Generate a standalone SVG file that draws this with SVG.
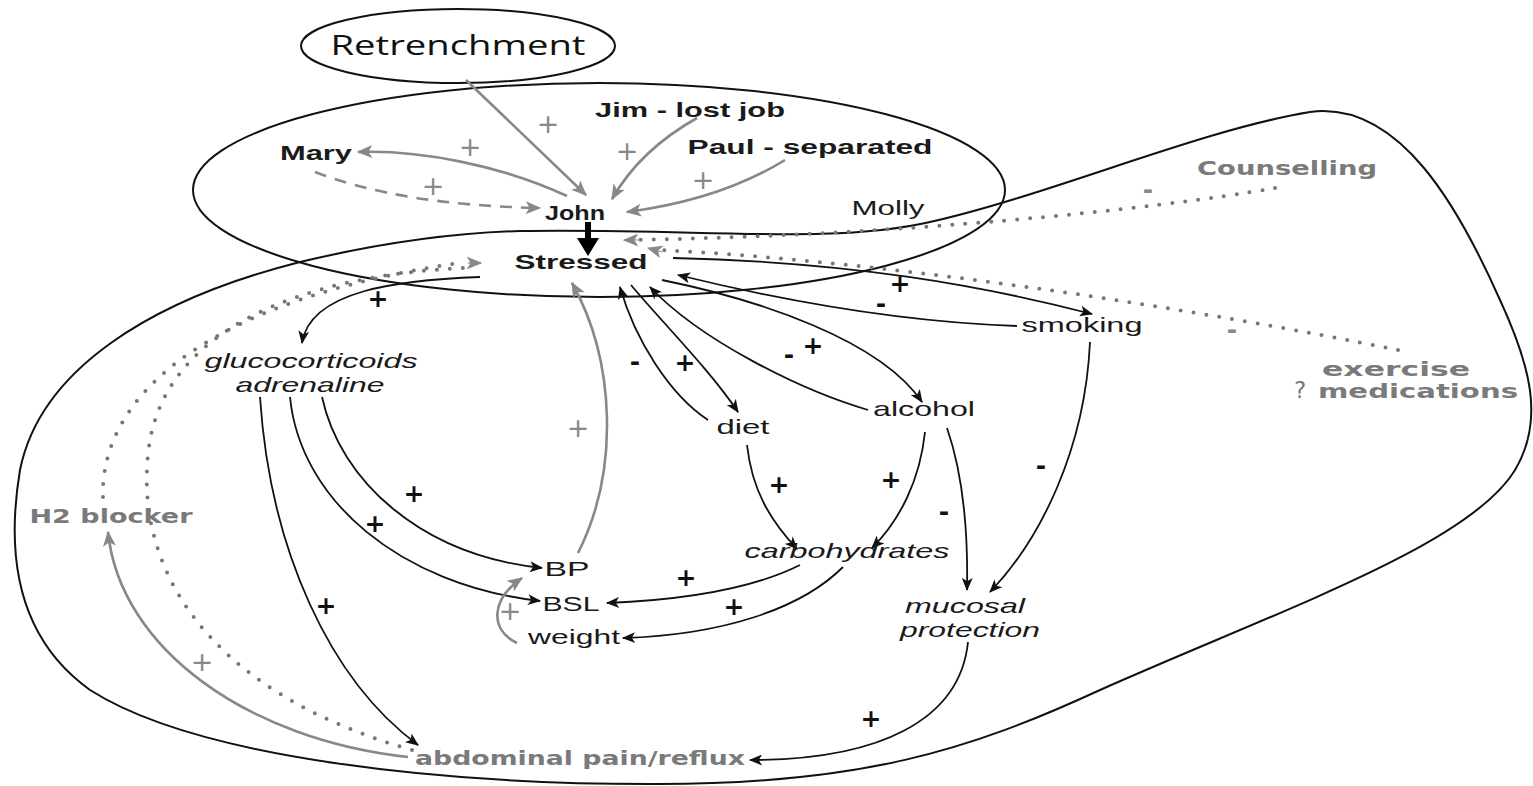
<svg xmlns="http://www.w3.org/2000/svg" width="1533" height="786" viewBox="0 0 1533 786">
<defs>
<style>
.t{font-family:"Liberation Sans",Arial,sans-serif;font-size:21px;fill:#1a1a1a;text-anchor:middle}
.b{font-weight:bold}
.i{font-style:italic}
.g{font-family:"DejaVu Sans","Liberation Sans",sans-serif;font-weight:bold;font-size:19px;fill:#7a7a7a;text-anchor:middle}
.s{font-family:"DejaVu Sans","Liberation Sans",sans-serif;font-weight:bold;font-size:25px;fill:#111;text-anchor:middle}
.sg{font-family:"DejaVu Sans","Liberation Sans",sans-serif;font-size:27px;fill:#888;text-anchor:middle}
.k{fill:none;stroke:#111;stroke-width:1.8}
.gr{fill:none;stroke:#888;stroke-width:2.6}
.dot{fill:none;stroke:#777;stroke-width:4;stroke-linecap:round;stroke-dasharray:0 13}
.dash{fill:none;stroke:#888;stroke-width:2.6;stroke-dasharray:12 9}
.outline{fill:none;stroke:#111;stroke-width:2}
</style>
<marker id="ab" viewBox="0 0 12 10" refX="11" refY="5" markerWidth="14" markerHeight="11" markerUnits="userSpaceOnUse" orient="auto"><path d="M0,0 L12,5 L0,10 L3,5 Z" fill="#111"/></marker>
<marker id="ag" viewBox="0 0 12 10" refX="11" refY="5" markerWidth="16" markerHeight="13" markerUnits="userSpaceOnUse" orient="auto"><path d="M0,0 L12,5 L0,10 L3,5 Z" fill="#888"/></marker>
</defs>
<rect width="1533" height="786" fill="#fff"/>

<g id="boundaries">
<ellipse cx="458" cy="46" rx="157" ry="37" class="outline"/>
<ellipse cx="599" cy="190" rx="406" ry="107" class="outline" stroke-width="1.8"/>
<path class="outline" stroke-width="2.6" d="M 520,231 C 700,228 830,245 930,222 C 1050,195 1200,130 1310,112 C 1400,100 1460,210 1500,300 C 1530,365 1545,420 1515,470 C 1470,545 1280,610 1100,690 C 970,750 860,785 650,784 C 450,784 200,760 90,690 C 20,640 5,560 20,470 C 40,370 150,300 300,262 C 380,243 450,233 520,231 Z"/>
</g>

<g id="connectors">
<path class="gr" stroke-width="4.5" d="M 466,80 L 586,195" marker-end="url(#ag)"/>
<path class="gr" d="M 697,118 Q 640,150 612,199" marker-end="url(#ag)"/>
<path class="gr" d="M 785,160 Q 720,200 627,212" marker-end="url(#ag)"/>
<path class="gr" d="M 567,196 C 500,165 420,150 358,152" marker-end="url(#ag)"/>
<path class="dash" d="M 315,172 Q 400,205 540,208" marker-end="url(#ag)"/>
<g id="john-stressed"><path fill="none" stroke="#000" stroke-width="6" d="M 588,222 L 588,241"/><path d="M 577,238 L 599,238 L 588,256 Z" fill="#000"/></g>
<path class="dot" d="M 1275,188 C 1150,210 900,235 632,240"/>
<path fill="none" stroke="#888" stroke-width="1" d="M 640,240 L 624,240" marker-end="url(#ag)"/>
<path class="dot" d="M 1398,350 C 1200,310 900,262 660,250"/>
<path fill="none" stroke="#888" stroke-width="1" d="M 662,252 L 648,248" marker-end="url(#ag)"/>
<path class="dot" d="M 103,497 C 100,400 200,300 465,262"/>
<path class="dot" d="M 412,750 C 200,690 130,560 150,440 C 170,330 300,275 465,268"/>
<path fill="none" stroke="#666" stroke-width="1" d="M 468,263 L 481,263" marker-end="url(#ag)"/>
<path class="k" d="M 673,258 C 850,262 980,285 1092,314" marker-end="url(#ab)"/>
<path class="k" d="M 1017,326 C 900,322 780,300 678,275" marker-end="url(#ab)"/>
<path class="k" d="M 480,277 C 400,280 310,290 302,343" marker-end="url(#ab)"/>
<path class="gr" d="M 408,757 C 250,740 120,650 108,532" marker-end="url(#ag)"/>
<path class="k" d="M 260,397 C 270,550 330,680 418,745" marker-end="url(#ab)"/>
<path class="k" d="M 290,397 C 300,500 400,585 540,601" marker-end="url(#ab)"/>
<path class="k" d="M 322,397 C 340,480 420,555 542,568" marker-end="url(#ab)"/>
<path class="gr" d="M 578,553 C 620,470 615,360 572,283" marker-end="url(#ag)"/>
<path class="k" d="M 708,420 C 670,395 635,340 620,287" marker-end="url(#ab)"/>
<path class="k" d="M 631,285 C 660,320 710,370 738,412" marker-end="url(#ab)"/>
<path class="k" d="M 868,410 C 800,390 700,340 650,287" marker-end="url(#ab)"/>
<path class="k" d="M 662,280 C 760,300 880,340 922,402" marker-end="url(#ab)"/>
<path class="k" d="M 747,445 C 752,490 770,520 797,549" marker-end="url(#ab)"/>
<path class="k" d="M 925,432 C 920,480 900,520 872,548" marker-end="url(#ab)"/>
<path class="k" d="M 947,428 C 965,480 968,540 967,590" marker-end="url(#ab)"/>
<path class="k" d="M 1090,342 C 1085,450 1040,540 990,592" marker-end="url(#ab)"/>
<path class="k" d="M 800,565 C 750,590 680,600 607,603" marker-end="url(#ab)"/>
<path class="k" d="M 843,567 C 800,610 720,635 623,638" marker-end="url(#ab)"/>
<path class="gr" d="M 517,643 C 490,630 490,600 522,578" marker-end="url(#ag)"/>
<path class="k" d="M 968,642 C 960,720 880,760 750,760" marker-end="url(#ab)"/>
</g>

<g id="signs">
<text class="sg" x="470" y="156">+</text>
<text class="sg" x="548" y="133">+</text>
<text class="sg" x="627" y="160">+</text>
<text class="sg" x="433" y="195">+</text>
<text class="sg" x="703" y="189">+</text>
<text class="sg" x="578" y="437">+</text>
<text class="sg" x="510" y="620">+</text>
<text class="sg" x="202" y="671">+</text>
<text class="s" x="378" y="307">+</text>
<text class="s" x="900" y="292">+</text>
<text class="s" x="881" y="312">-</text>
<text class="s" x="1232" y="338" style="fill:#888">-</text>
<text class="s" x="1148" y="198" style="fill:#888">-</text>
<text class="s" x="635" y="370">-</text>
<text class="s" x="685" y="371">+</text>
<text class="s" x="789" y="363">-</text>
<text class="s" x="813" y="354">+</text>
<text class="s" x="414" y="502">+</text>
<text class="s" x="375" y="532">+</text>
<text class="s" x="779" y="493">+</text>
<text class="s" x="891" y="488">+</text>
<text class="s" x="944" y="520">-</text>
<text class="s" x="1041" y="474">-</text>
<text class="s" x="686" y="586">+</text>
<text class="s" x="734" y="615">+</text>
<text class="s" x="326" y="614">+</text>
<text class="s" x="871" y="727">+</text>
</g>

<g id="node-retrenchment"><text x="458" y="55" textLength="255" lengthAdjust="spacingAndGlyphs" style="font-family:'Open Sans','DejaVu Sans',sans-serif;font-size:28px;font-weight:500;fill:#111;text-anchor:middle">Retrenchment</text></g>
<g id="node-jim"><text class="t b" x="690" y="117" textLength="190" lengthAdjust="spacingAndGlyphs">Jim - lost job</text></g>
<g id="node-paul"><text class="t b" x="810" y="154" textLength="245" lengthAdjust="spacingAndGlyphs">Paul - separated</text></g>
<g id="node-mary"><text class="t b" x="316" y="160" textLength="72" lengthAdjust="spacingAndGlyphs">Mary</text></g>
<g id="node-john"><text class="t b" x="575" y="220" textLength="60" lengthAdjust="spacingAndGlyphs">John</text></g>
<g id="node-molly"><text class="t" x="888" y="215" textLength="73" lengthAdjust="spacingAndGlyphs">Molly</text></g>
<g id="node-stressed"><text class="t b" x="581" y="269" textLength="133" lengthAdjust="spacingAndGlyphs">Stressed</text></g>
<g id="node-counselling"><text class="g" x="1287" y="175" textLength="180" lengthAdjust="spacingAndGlyphs">Counselling</text></g>
<g id="node-smoking"><text class="t" x="1082" y="332" textLength="121" lengthAdjust="spacingAndGlyphs">smoking</text></g>
<g id="node-exercise"><text class="g" x="1396" y="376" textLength="148" lengthAdjust="spacingAndGlyphs">exercise</text><text x="1300" y="398" style="font-family:'DejaVu Sans',sans-serif;font-size:23px;fill:#7a7a7a;text-anchor:middle">?</text><text class="g" x="1418" y="398" textLength="200" lengthAdjust="spacingAndGlyphs">medications</text></g>
<g id="node-gluco"><text class="t i" x="311" y="368" textLength="213" lengthAdjust="spacingAndGlyphs">glucocorticoids</text><text class="t i" x="310" y="392" textLength="149" lengthAdjust="spacingAndGlyphs">adrenaline</text></g>
<g id="node-diet"><text class="t" x="743" y="434" textLength="53" lengthAdjust="spacingAndGlyphs">diet</text></g>
<g id="node-alcohol"><text class="t" x="924" y="416" textLength="102" lengthAdjust="spacingAndGlyphs">alcohol</text></g>
<g id="node-h2"><text class="g" x="111" y="523" textLength="163" lengthAdjust="spacingAndGlyphs">H2 blocker</text></g>
<g id="node-bp"><text class="t" x="567" y="576" textLength="45" lengthAdjust="spacingAndGlyphs">BP</text></g>
<g id="node-carbs"><text class="t i" x="847" y="558" textLength="205" lengthAdjust="spacingAndGlyphs">carbohydrates</text></g>
<g id="node-bsl"><text class="t" x="571" y="611" textLength="57" lengthAdjust="spacingAndGlyphs">BSL</text></g>
<g id="node-weight"><text class="t" x="574" y="644" textLength="92" lengthAdjust="spacingAndGlyphs">weight</text></g>
<g id="node-mucosal"><text class="t i" x="965" y="613" textLength="120" lengthAdjust="spacingAndGlyphs">mucosal</text><text class="t i" x="970" y="637" textLength="140" lengthAdjust="spacingAndGlyphs">protection</text></g>
<g id="node-abdominal"><text class="g" x="580" y="765" textLength="330" lengthAdjust="spacingAndGlyphs">abdominal pain/reflux</text></g>
</svg>
